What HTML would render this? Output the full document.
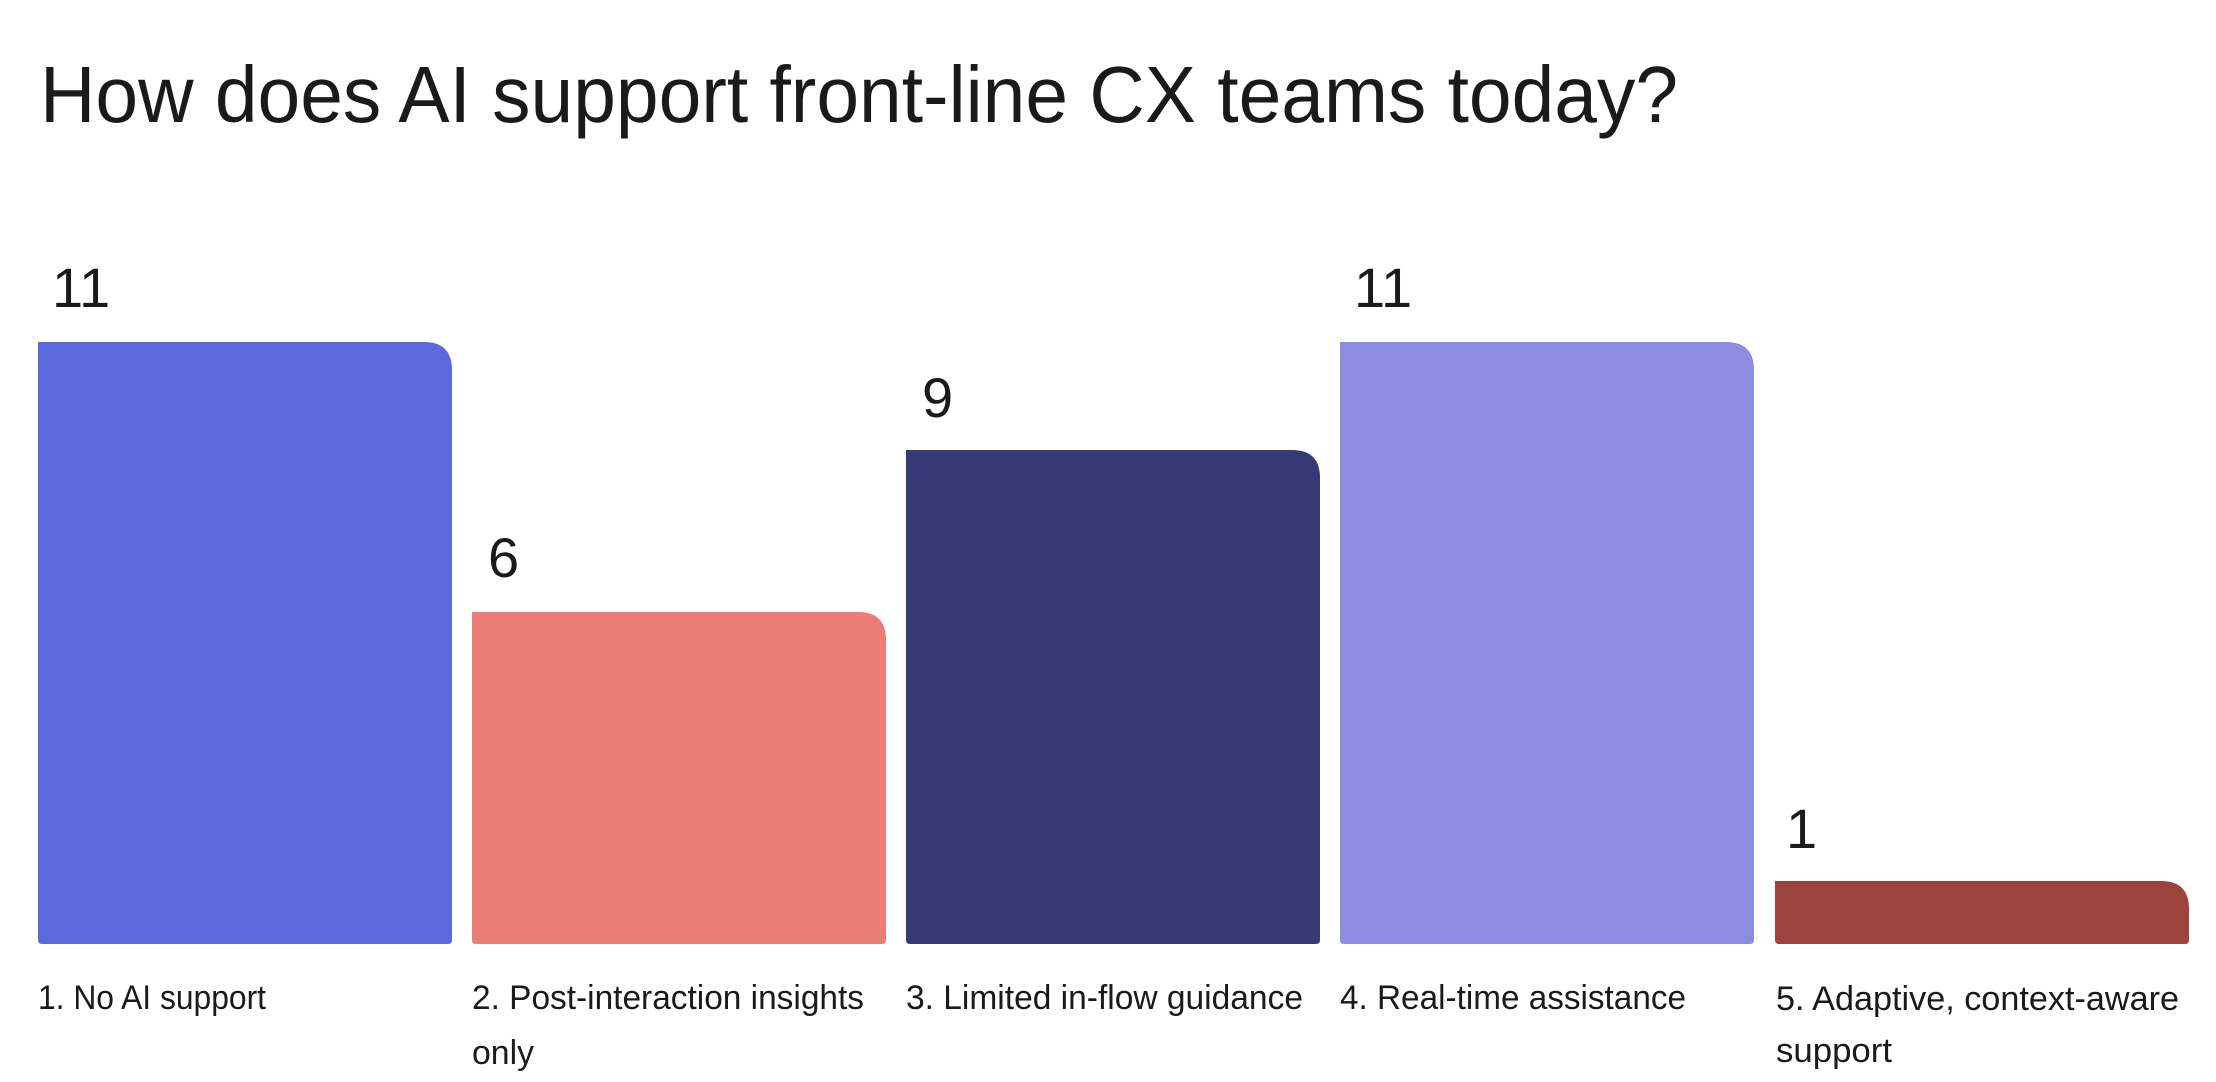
<!DOCTYPE html>
<html><head><meta charset="utf-8"><style>
html,body{margin:0;padding:0;background:#fff;}
svg{display:block;}
text{font-family:"Liberation Sans",sans-serif;fill:#1a1a1a;}
</style></head><body>
<svg width="2216" height="1082" viewBox="0 0 2216 1082" xmlns="http://www.w3.org/2000/svg">
<text x="40" y="122" font-size="80" textLength="1638" lengthAdjust="spacingAndGlyphs">How does AI support front-line CX teams today?</text>
<g>
<path d="M38,342 H424 Q452,342 452,370 V940 Q452,944 448,944 H42 Q38,944 38,940 Z" fill="#5B6ADB"/>
<path d="M472,612 H858 Q886,612 886,640 V940 Q886,944 882,944 H476 Q472,944 472,940 Z" fill="#EC7C76"/>
<path d="M906,450 H1292 Q1320,450 1320,478 V940 Q1320,944 1316,944 H910 Q906,944 906,940 Z" fill="#353A76"/>
<path d="M1340,342 H1726 Q1754,342 1754,370 V940 Q1754,944 1750,944 H1344 Q1340,944 1340,940 Z" fill="#8C8CE0"/>
<path d="M1775,881 H2161 Q2189,881 2189,909 V940 Q2189,944 2185,944 H1779 Q1775,944 1775,940 Z" fill="#9C433E"/>
</g>
<g font-size="56">
<text x="52" y="307">11</text>
<text x="488" y="577">6</text>
<text x="922" y="417">9</text>
<text x="1354" y="307">11</text>
<text x="1786" y="848">1</text>
</g>
<g font-size="34">
<text x="38" y="1009" textLength="228" lengthAdjust="spacingAndGlyphs">1. No AI support</text>
<text x="472" y="1009" textLength="392" lengthAdjust="spacingAndGlyphs">2. Post-interaction insights</text>
<text x="472" y="1064" textLength="62" lengthAdjust="spacingAndGlyphs">only</text>
<text x="906" y="1009" textLength="397" lengthAdjust="spacingAndGlyphs">3. Limited in-flow guidance</text>
<text x="1340" y="1009" textLength="346" lengthAdjust="spacingAndGlyphs">4. Real-time assistance</text>
<text x="1776" y="1010" textLength="403" lengthAdjust="spacingAndGlyphs">5. Adaptive, context-aware</text>
<text x="1776" y="1062" textLength="116" lengthAdjust="spacingAndGlyphs">support</text>
</g>
</svg>
</body></html>
